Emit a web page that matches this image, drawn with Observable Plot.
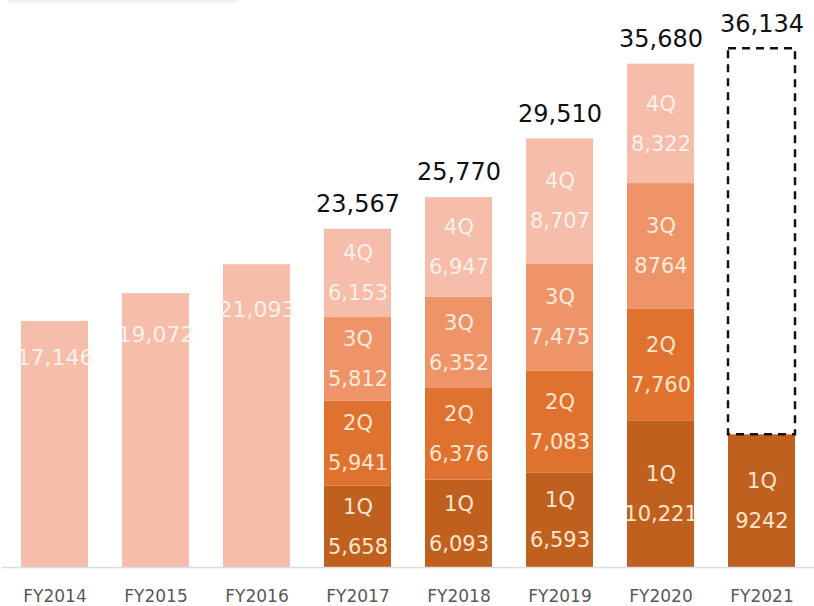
<!DOCTYPE html>
<html>
<head>
<meta charset="utf-8">
<script src="https://cdn.jsdelivr.net/npm/d3@7"></script>
<script src="https://cdn.jsdelivr.net/npm/@observablehq/plot@0.6"></script>
<style>
  html, body { margin: 0; padding: 0; background: #fff; }
  #wrap { position: relative; width: 814px; height: 606px; }
  #deco { position: absolute; left: 8px; top: 0; width: 228px; height: 2px;
          background: #e9f3e6; box-shadow: 0 1px 3px #eaf3e7; }
</style>
</head>
<body>
<div id="wrap"><div id="deco"></div></div>
<script>
// ---- data ----
const years = ["FY2014","FY2015","FY2016","FY2017","FY2018","FY2019","FY2020","FY2021"];
const earlyYears = ["FY2014","FY2015","FY2016"];
const earlyTotals = [17146, 19072, 21093];
const quarterYears = ["FY2017","FY2018","FY2019","FY2020","FY2021"];
const quarters = ["1Q","2Q","3Q","4Q"];
const q1 = [5658, 6093, 6593, 10221, 9242];
const q2 = [5941, 6376, 7083, 7760];
const q3 = [5812, 6352, 7475, 8764];
const q4 = [6153, 6947, 8707, 8322];
const totalLabels = [23567, 25770, 29510, 35680, 36134];
const planYear = "FY2021";
const planTotal = 36134;
const plainLabels = ["FY2020-3Q", "FY2021-1Q"]; // shown without thousands separator

// ---- build rows ----
const rows = [];
[q1, q2, q3, q4].forEach((arr, qi) => {
  arr.forEach((v, i) => rows.push({year: quarterYears[i], q: quarters[qi], value: v}));
});
earlyYears.forEach((y, i) => rows.push({year: y, q: "total", value: earlyTotals[i]}));

const fmt = d3.format(",");
const valueText = d => plainLabels.includes(d.year + "-" + d.q) ? String(d.value) : fmt(d.value);

const stackTop = d3.rollup(rows.filter(d => d.q !== "total"), v => d3.sum(v, d => d.value), d => d.year);
const totalsRows = quarterYears.map((y, i) => ({
  year: y,
  label: fmt(totalLabels[i]),
  top: y === planYear ? Math.max(planTotal, stackTop.get(y)) : stackTop.get(y)
}));
const planRows = [{year: planYear, y1: q1[q1.length - 1], y2: planTotal}];

const fillColors = {"1Q": "#c0601f", "2Q": "#e07230", "3Q": "#ee9468", "4Q": "#f5bdaa", "total": "#f5bdaa"};
const textColors = {"1Q": "#fde6cf", "2Q": "#fde6cf", "3Q": "#fdebdd", "4Q": "#fdf0ea", "total": "#fdf0ea"};

const font = "DejaVu Sans, Verdana, sans-serif";

const chart = Plot.plot({
  width: 814,
  height: 606,
  marginLeft: 2,
  marginRight: 0,
  marginTop: 0,
  marginBottom: 39,
  style: {fontFamily: font, background: "#fff"},
  x: {domain: years, paddingInner: 0.34, paddingOuter: 0.166, label: null},
  y: {domain: [0, 39500], axis: null},
  marks: [
    Plot.barY(rows, Plot.stackY({x: "year", y: "value", z: "q", fill: d => fillColors[d.q]})),
    Plot.barY(planRows, {x: "year", y1: "y1", y2: "y2", fill: "none", stroke: "#111",
      strokeWidth: 2.5, strokeDasharray: "8,6"}),
    Plot.ruleY([0], {stroke: "#d6dfe8", strokeWidth: 1.5}),
    // quarter names
    Plot.text(rows.filter(d => d.q !== "total"), Plot.stackY({x: "year", y: "value", z: "q",
      text: "q", dy: -20, fontSize: 21, fill: d => textColors[d.q]})),
    // quarter values
    Plot.text(rows.filter(d => d.q !== "total"), Plot.stackY({x: "year", y: "value", z: "q",
      text: valueText, dy: 20, fontSize: 21, fill: d => textColors[d.q]})),
    // early totals inside the bars
    Plot.text(rows.filter(d => d.q === "total"), {x: "year", y: d => d.value * 0.85,
      text: valueText, fontSize: 22, fill: textColors.total}),
    // totals above
    Plot.text(totalsRows, {x: "year", y: "top", text: "label", dy: -25, fontSize: 24, fill: "#111"}),
    Plot.axisX({tickSize: 0, tickPadding: 22, fontSize: 17, fill: "#595959", label: null})
  ]
});
document.getElementById("wrap").appendChild(chart);
</script>
</body>
</html>
